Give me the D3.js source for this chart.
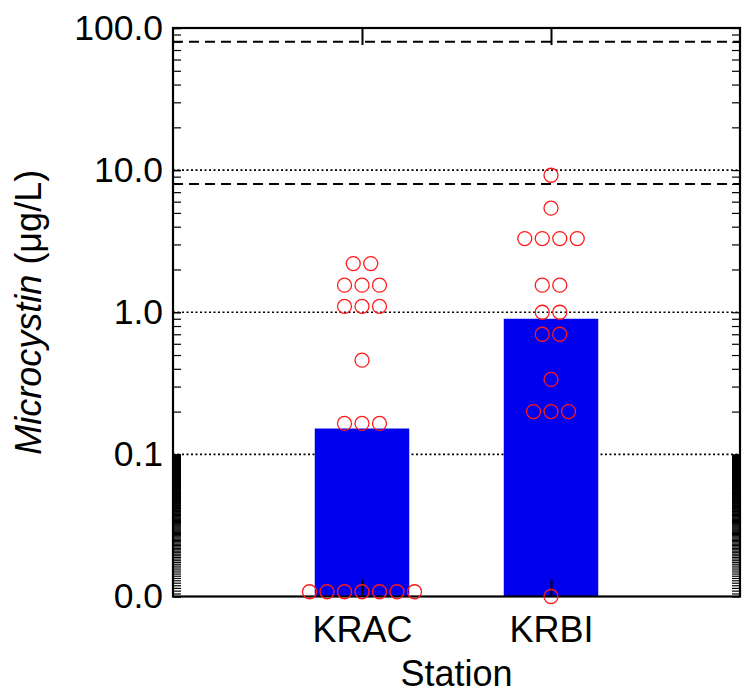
<!DOCTYPE html>
<html>
<head>
<meta charset="utf-8">
<script src="https://cdn.jsdelivr.net/npm/d3@7"></script>
<style>
  html, body { margin: 0; padding: 0; background: #fff; }
  svg { display: block; font-family: "Liberation Sans", Arial, sans-serif; }
</style>
</head>
<body>
<svg id="chart" width="744" height="694"></svg>
<script>
// ---- data ----
const stations = ["KRAC", "KRBI"];
const barValues = [0.152, 0.9];
const kracValues = [2.2, 2.2, 1.55, 1.55, 1.55, 1.1, 1.1, 1.1, 0.46, 0.165, 0.165, 0.165,
                    0.0108, 0.0108, 0.0108, 0.0108, 0.0108, 0.0108, 0.0108];
const krbiValues = [9.2, 5.4, 3.3, 3.3, 3.3, 3.3, 1.55, 1.55, 1.0, 1.0, 0.7, 0.7, 0.337,
                    0.2, 0.2, 0.2, 0.01];
const pointValues = [kracValues, krbiValues];
const gridLines = [10, 1, 0.1];
const dashedLines = [80, 8];
const yTickValues = [100, 10, 1, 0.1, 0.01];
const yTickLabels = ["100.0", "10.0", "1.0", "0.1", "0.0"];
const yTitle = "Microcystin";
const yUnit = " (μg/L)";
const xTitle = "Station";

(function () {
// ---- layout ----
const pLeft = 173, pRight = 740, pTop = 28, pBottom = 596.5;
const svg = d3.select("#chart");

const y = d3.scaleLog().domain([0.01, 100]).range([pBottom, pTop]);
const x = d3.scalePoint().domain(stations).range([pLeft, pRight]).padding(1);
const step = x.step();
const barW = step * 0.5;

// minor ticks
const minors = [];
for (let k = 21; k < 200; k++) minors.push(k / 2000);            // dense lowest decade
[0.1, 1, 10].forEach(d => { for (let k = 2; k < 10; k++) minors.push(+(k * d).toFixed(4)); });

// gridlines (behind bars)
svg.append("g").selectAll("line").data(gridLines).join("line")
  .attr("x1", pLeft).attr("x2", pRight)
  .attr("y1", d => y(d)).attr("y2", d => y(d))
  .attr("stroke", "#000").attr("stroke-width", 1.6).attr("stroke-dasharray", "2,2.5");

svg.append("g").selectAll("line").data(dashedLines).join("line")
  .attr("x1", pLeft).attr("x2", pRight)
  .attr("y1", d => y(d)).attr("y2", d => y(d))
  .attr("stroke", "#000").attr("stroke-width", 2).attr("stroke-dasharray", "10,6");

// bars
svg.append("g").selectAll("rect").data(stations).join("rect")
  .attr("x", d => x(d) - barW / 2)
  .attr("width", barW)
  .attr("y", (d, i) => y(barValues[i]))
  .attr("height", (d, i) => pBottom - y(barValues[i]))
  .attr("fill", "#0000ee");

// axes
const yLeft = svg.append("g").attr("transform", `translate(${pLeft},0)`)
  .call(d3.axisLeft(y).tickValues(yTickValues).tickSize(-8).tickPadding(10)
        .tickFormat((d, i) => yTickLabels[i]));
yLeft.select(".domain").remove();
yLeft.selectAll("line").attr("stroke-width", 1.6);
yLeft.selectAll("text").attr("font-size", 35.5).attr("fill", "#000")
  .attr("font-family", '"Liberation Sans", Arial, sans-serif');

const yLeftMinor = svg.append("g").attr("transform", `translate(${pLeft},0)`)
  .call(d3.axisLeft(y).tickValues(minors).tickSize(-8).tickFormat(""));
yLeftMinor.select(".domain").remove();
yLeftMinor.selectAll("line").attr("stroke-width", 1.2);

const yRight = svg.append("g").attr("transform", `translate(${pRight},0)`)
  .call(d3.axisRight(y).tickValues(yTickValues.concat(minors)).tickSize(-8).tickFormat(""));
yRight.select(".domain").remove();
yRight.selectAll("line").attr("stroke-width", 1.2);

const xBottom = svg.append("g").attr("transform", `translate(0,${pBottom})`)
  .call(d3.axisBottom(x).tickSize(-17).tickPadding(14));
xBottom.select(".domain").remove();
xBottom.selectAll("line").attr("stroke-width", 2);
xBottom.selectAll("text").attr("font-size", 36).attr("fill", "#000")
  .attr("font-family", '"Liberation Sans", Arial, sans-serif')
  .attr("dy", null).attr("y", 45);

const xTop = svg.append("g").attr("transform", `translate(0,${pTop})`)
  .call(d3.axisTop(x).tickSize(-17).tickFormat(""));
xTop.select(".domain").remove();
xTop.selectAll("line").attr("stroke-width", 2);

// frame
svg.append("rect").attr("x", pLeft).attr("y", pTop)
  .attr("width", pRight - pLeft).attr("height", pBottom - pTop)
  .attr("fill", "none").attr("stroke", "#000").attr("stroke-width", 2.2);

// points (dodged)
const rowGap = 17.5;
stations.forEach((s, si) => {
  const groups = d3.groups(pointValues[si], v => v);
  const pts = [];
  groups.forEach(([v, arr]) => {
    arr.forEach((_, j) => pts.push({ v, off: (j - (arr.length - 1) / 2) * rowGap }));
  });
  svg.append("g").selectAll("circle").data(pts).join("circle")
    .attr("cx", d => x(s) + d.off)
    .attr("cy", d => y(d.v))
    .attr("r", 7)
    .attr("fill", "none")
    .attr("stroke", "#ff1a1a")
    .attr("stroke-width", 1.3);
});

// titles
const yt = svg.append("text")
  .attr("transform", `translate(41,${(pTop + pBottom) / 2}) rotate(-90)`)
  .attr("text-anchor", "middle").attr("font-size", 36).attr("fill", "#000");
yt.append("tspan").attr("font-style", "italic").text(yTitle);
yt.append("tspan").text(yUnit);

svg.append("text").attr("x", (pLeft + pRight) / 2).attr("y", 686)
  .attr("text-anchor", "middle").attr("font-size", 36).attr("fill", "#000")
  .text(xTitle);
})();
</script>
</body>
</html>
